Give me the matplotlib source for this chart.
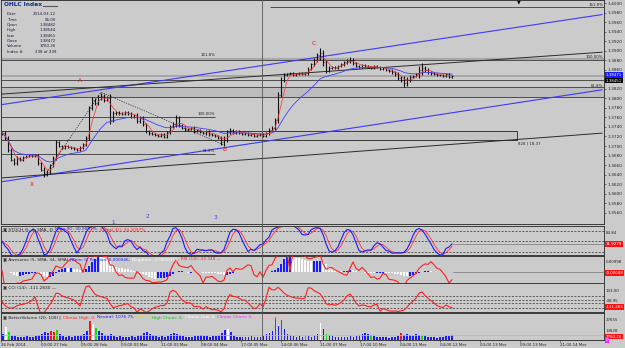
import numpy as np
import pandas as pd
import matplotlib
matplotlib.use("Agg")
import matplotlib.pyplot as plt
from matplotlib.patches import Rectangle
from matplotlib.lines import Line2D

W, H = 625, 348
BG = "#cbcbcb"
EDGE = "#3a3a3a"

# hourly EURUSD closes (one value per plotted bar)
close = [1.3727, 1.3717, 1.3692, 1.3671, 1.3664, 1.3675, 1.3671, 1.3677, 1.3679, 1.3681,
         1.3679, 1.3681, 1.3664, 1.3650, 1.3641, 1.3645, 1.3660, 1.3675, 1.3708, 1.3700,
         1.3696, 1.3700, 1.3698, 1.3696, 1.3694, 1.3692, 1.3696, 1.3704, 1.3717, 1.3780,
         1.3797, 1.3790, 1.3803, 1.3805, 1.3797, 1.3801, 1.3755, 1.3769, 1.3771, 1.3769,
         1.3767, 1.3771, 1.3769, 1.3761, 1.3765, 1.3752, 1.3759, 1.3746, 1.3731, 1.3727,
         1.3725, 1.3723, 1.3721, 1.3725, 1.3719, 1.3729, 1.3742, 1.3746, 1.3759, 1.3744,
         1.3738, 1.3734, 1.3736, 1.3738, 1.3731, 1.3734, 1.3729, 1.3727, 1.3731, 1.3725,
         1.3723, 1.3721, 1.3717, 1.3708, 1.3713, 1.3729, 1.3734, 1.3727, 1.3731, 1.3727,
         1.3725, 1.3727, 1.3723, 1.3725, 1.3721, 1.3723, 1.3725, 1.3721, 1.3727, 1.3734,
         1.3738, 1.3755, 1.3807, 1.3839, 1.3849, 1.3851, 1.3853, 1.3849, 1.3851, 1.3853,
         1.3851, 1.3853, 1.3862, 1.3872, 1.3881, 1.3891, 1.3895, 1.3876, 1.3858, 1.3864,
         1.3866, 1.3864, 1.3868, 1.3872, 1.3876, 1.3879, 1.3881, 1.3874, 1.3868, 1.3866,
         1.3870, 1.3868, 1.3866, 1.3864, 1.3868, 1.3866, 1.3862, 1.3864, 1.3860, 1.3858,
         1.3855, 1.3851, 1.3843, 1.3839, 1.3832, 1.3839, 1.3845, 1.3847, 1.3851, 1.3860,
         1.3864, 1.3860, 1.3855, 1.3853, 1.3851, 1.3849, 1.3849, 1.3847, 1.3851, 1.3845,
         1.3847]

# wick length beyond the open/close, in pips
wick = [3, 4, 4, 3, 3, 3, 2, 2, 3, 2,
        2, 2, 3, 3, 6, 4, 3, 4, 5, 3,
        2, 2, 2, 2, 2, 2, 3, 3, 4, 5,
        5, 4, 4, 6, 4, 3, 8, 4, 3, 3,
        2, 2, 3, 3, 3, 4, 3, 3, 3, 3,
        2, 2, 2, 2, 3, 3, 3, 4, 6, 4,
        3, 2, 2, 2, 3, 2, 2, 2, 3, 3,
        2, 3, 3, 5, 8, 4, 3, 2, 2, 2,
        2, 2, 2, 2, 2, 2, 2, 2, 3, 3,
        3, 4, 6, 5, 4, 3, 2, 2, 2, 2,
        2, 2, 3, 3, 4, 5, 10, 7, 5, 3,
        3, 3, 3, 3, 3, 4, 5, 3, 3, 3,
        2, 2, 2, 3, 3, 3, 2, 2, 2, 2,
        3, 3, 4, 5, 8, 5, 4, 3, 3, 8,
        10, 4, 3, 3, 2, 2, 2, 2, 2, 3,
        2]

volume = [600, 1300, 800, 400, 350, 300, 250, 300, 400, 250,
          300, 350, 500, 600, 800, 700, 900, 800, 1000, 600,
          400, 300, 350, 300, 400, 350, 500, 600, 900, 1900,
          1600, 1200, 900, 700, 500, 400, 600, 400, 300, 350,
          300, 250, 300, 350, 300, 400, 500, 700, 800, 600,
          500, 400, 300, 350, 300, 400, 600, 700, 600, 500,
          400, 300, 250, 300, 350, 400, 500, 400, 350, 300,
          400, 350, 500, 700, 1000, 1100, 800, 400, 300, 250,
          300, 250, 300, 350, 300, 250, 300, 400, 600, 700,
          900, 2300, 1400, 2000, 1100, 600, 500, 400, 300, 350,
          300, 400, 350, 300, 400, 600, 1700, 1100, 600, 500,
          400, 300, 250, 300, 250, 300, 350, 300, 400, 500,
          600, 700, 600, 500, 400, 300, 250, 300, 250, 200,
          250, 300, 400, 700, 500, 600, 500, 400, 600, 500,
          400, 350, 300, 250, 300, 200, 250, 300, 350, 400,
          500]
red_vol = [16, 17, 29, 91, 93, 133]
green_vol = [2, 18, 31, 101, 108, 123, 140]
white_vol = [1, 30, 75, 106]

time_labels = ["26 Feb 2014", "00:00 27 Feb", "05:00 28 Feb", "03:00 03 Mar", "11:00 03 Mar",
               "08:00 04 Mar", "17:00 05 Mar", "14:00 06 Mar", "11:00 07 Mar", "17:00 10 Mar",
               "04:00 11 Mar", "04:00 12 Mar", "03:00 13 Mar", "09:00 13 Mar", "21:00 14 Mar"]

# drawn objects on the price chart: (bar0, price0, bar1, price1)
blue_lines = [(0, 1.3787, 200, 1.3976), (0, 1.3625, 200, 1.3818)]
dark_lines = [(0, 1.3809, 200, 1.3897), (0, 1.3633, 200, 1.3727)]
xabc_bars = [14, 33, 74]
xabc_prices = [1.3636, 1.3813, 1.3702]
wave_marks = ["X", "A", "B", "C"]
wave_bars = [10, 26, 74, 104]
wave_prices = [1.3620, 1.3837, 1.3692, 1.3916]

info_keys = ["Date", "Time", "Open", "High", "Low", "Close", "Volume", "Index #"]
info_vals = ["2014-03-12", "06:00", "1.38482", "1.38544", "1.38461", "1.38472", "3760.26", "238 of 239"]

c = pd.Series(close)
o = c.shift(1).fillna(c.iloc[0])
w = pd.Series(wick) * 0.0001
hi = np.maximum(o, c) + w
lo = np.minimum(o, c) - w
idx = np.arange(len(close))

ma_fast = c.rolling(4, min_periods=1).mean()
ma_slow = c.ewm(span=18).mean()

hh = hi.rolling(5, min_periods=1).max()
ll = lo.rolling(5, min_periods=1).min()
stoch_k = (100 * (c - ll) / (hh - ll)).rolling(3, min_periods=1).mean()
stoch_d = stoch_k.rolling(3, min_periods=1).mean()

med = (hi + lo) / 2
ao = med.rolling(3, min_periods=1).mean() - med.rolling(21, min_periods=1).mean()
delta = c.diff()
gain = delta.clip(lower=0).rolling(9, min_periods=1).mean()
loss = (-delta.clip(upper=0)).rolling(9, min_periods=1).mean()
rsi = (100 - 100 / (1 + gain / loss.replace(0, np.nan))).fillna(50)

tp = (hi + lo + c) / 3
mad = tp.rolling(9, min_periods=1).apply(lambda v: np.mean(np.abs(v - v.mean())), raw=True)
cci = ((tp - tp.rolling(9, min_periods=1).mean()) / (0.015 * mad.replace(0, np.nan))).fillna(0)


def fx(px):
    return px / W


def fy(py):
    return 1 - py / H


def panel(top, bottom):
    a = fig.add_axes([fx(1), fy(bottom), fx(603), (bottom - top) / H])
    a.set_facecolor(BG)
    for s in a.spines.values():
        s.set_color(EDGE)
        s.set_linewidth(0.7)
    a.set_xlim(-1 / 3, 602 / 3)
    a.yaxis.tick_right()
    a.tick_params(axis="y", labelsize=3.1, length=1.5, width=0.4, pad=1, colors="#222222")
    a.tick_params(axis="x", length=0, labelbottom=False)
    return a


def tag(py, s, fc, tc="white"):
    fig.text(fx(606), fy(py), s, fontsize=2.9, color=tc, va="center", ha="left",
             bbox=dict(boxstyle="square,pad=0.15", fc=fc, ec="none"))


def side(py, s):
    fig.text(fx(606), fy(py), s, fontsize=2.9, color="#222222", va="center")


def chain(py, pieces):
    # window title made of several coloured pieces, one after another
    t = fig.text(fx(3), fy(py), "\u25a3 " + pieces[0][0], fontsize=3.1, color=pieces[0][1], va="center")
    for s, col in pieces[1:]:
        t = fig.add_artist(plt.Annotation(s, xy=(1, 0.5), xycoords=t, xytext=(1.2, 0),
                                          textcoords="offset points", fontsize=3.1, color=col,
                                          va="center"))


fig = plt.figure(figsize=(W / 100, H / 100), dpi=100, facecolor=BG)

# ---------------- price panel ----------------
ax = panel(0, 224)
ax.set_ylim(1.35362, 1.40066)
ticks = np.arange(1.356, 1.4001, 0.002)
ax.set_yticks(ticks)
ax.set_yticklabels([f"{v:.4f}" for v in ticks])

# horizontal levels and zones
ax.add_patch(Rectangle((-1, 1.3803), 205, 0.0021, fc="#bcbcbc", ec=EDGE, lw=0.6))
ax.add_patch(Rectangle((-1, 1.37126), 172.7, 0.00189, fc="#c4c4c4", ec=EDGE, lw=0.7))
ax.axhline(1.3882, color="#a8a8a8", lw=1.6)
ax.axhline(1.3880, color=EDGE, lw=0.6)
ax.axhline(close[-1], color="#a0a0a0", lw=1.2)
ax.axhline(1.3839, color=EDGE, lw=0.6)
ax.hlines(1.3992, 89.3, 205, color=EDGE, lw=0.6)
ax.hlines([1.3761, 1.3683], -1, 71, color=EDGE, lw=0.6)

for x0, p0, x1, p1 in blue_lines:
    ax.plot([x0, x1], [p0, p1], color="#3a3aff", lw=0.8)
for x0, p0, x1, p1 in dark_lines:
    ax.plot([x0, x1], [p0, p1], color="#2b2b2b", lw=0.7)
ax.plot(xabc_bars, xabc_prices, color="#333333", lw=0.5, ls=(0, (2, 1.5)))

# bars
ax.vlines(idx, lo, hi, color="#111111", lw=0.8)
ax.hlines(o, idx - 0.45, idx, color="#111111", lw=0.5)
ax.hlines(c, idx, idx + 0.45, color="#111111", lw=0.5)
ax.plot(idx, ma_slow, color="#4040ff", lw=0.6)
ax.plot(idx, ma_fast, color="#ff3030", lw=0.5)

for m, b, p in zip(wave_marks, wave_bars, wave_prices):
    ax.text(b, p, m, color="#e01010", fontsize=4.2, ha="center", va="center")

fib = [(603, 5, "161.8%"), (603, 57, "100.00%"), (603, 86, "61.8%"),
       (215, 55, "161.8%"), (215, 114, "100.00%"), (215, 151, "61.8%")]
for px, py, s in fib:
    fig.text(fx(px), fy(py), s, fontsize=2.8, color="#222222", ha="right", va="center")
fig.text(fx(518), fy(144), "828 | 18.37", fontsize=2.8, color="#222222", ha="left", va="center")
fig.text(fx(519), fy(2), "\u25bc", fontsize=3.5, color="black", ha="center", va="center")
for s, px, py in [("1", 113, 222), ("2", 147, 216), ("3", 215, 218)]:
    fig.text(fx(px), fy(py), s, fontsize=4.2, color="#4040ff", ha="center", va="center")

# info box
fig.text(fx(4), fy(5), "OHLC Index", fontsize=4.2, color="#0a2a8a", weight="bold", va="center")
fig.add_artist(Line2D([fx(43), fx(57)], [fy(6), fy(6)], color="#555555", lw=0.8))
for k, (key, val) in enumerate(zip(info_keys, info_vals)):
    yy = 14.3 + k * 5.35
    fig.text(fx(7), fy(yy), key, fontsize=2.9, color="#1a1a40", va="center")
    fig.text(fx(56), fy(yy), val, fontsize=2.9, color="#1a1a40", va="center", ha="right")

tag(75, "1.38471", "#1a1aff")
tag(80.5, "1.38451", "black")

# ---------------- stochastic ----------------
a2 = panel(226, 255)
a2.set_ylim(10.6, 93.4)
a2.set_yticks([])
for lv in (80, 50, 20):
    a2.axhline(lv, color="#333333", lw=0.5, ls=(0, (3, 2)))
a2.plot(idx, stoch_d, color="#ff3030", lw=0.6)
a2.plot(idx, stoch_k, color="#1a1aff", lw=0.8)
a2.axhline(stoch_k.iloc[-1], xmin=0.75, color="#777777", lw=0.5)

# ---------------- awesome + rsi ----------------
a3 = panel(256, 283)
amax = ao.max()
a3.set_ylim(-amax * 11 / 16, amax)
a3.set_yticks([])
ao_col = np.where(ao.diff().fillna(0) >= 0, "#1a1aff", "white")
a3.bar(idx, ao, width=0.55, color=ao_col)
a3.axhline(0, xmin=0.75, color="#777777", lw=0.5)
a3r = a3.twinx()
a3r.set_ylim(15, 90)
a3r.axis("off")
a3r.plot(idx, rsi, color="#ff2020", lw=0.8)

# ---------------- CCI ----------------
a4 = panel(283, 312)
a4.set_ylim(-175, 309)
a4.set_yticks([])
for lv in (100, 33, -33, -100):
    a4.axhline(lv, color="#333333", lw=0.5, ls=(0, (3, 2)))
a4.plot(idx, cci, color="#ff2020", lw=0.8)

# ---------------- volume ----------------
a5 = panel(313, 340)
vmax = max(volume)
a5.set_ylim(0, vmax * 1.17)
a5.set_yticks([])
vcol = ["#1a1aff"] * len(volume)
for i in red_vol:
    vcol[i] = "#ff1010"
for i in green_vol:
    vcol[i] = "#10e010"
for i in white_vol:
    vcol[i] = "white"
a5.bar(idx, volume, width=0.6, color=vcol)
a5.axhline(np.mean(volume), color="#f0a0a0", lw=0.6)
a5.set_xticks(np.arange(len(time_labels)) * 40 / 3 - 2 / 3)
a5.set_xticklabels(time_labels)
a5.tick_params(axis="x", labelbottom=True, labelsize=2.9, length=1.5, width=0.4, pad=0.5,
               colors="#222222")
for t in a5.get_xticklabels():
    t.set_ha("left")

chain(229.5, [("STOCH (5, 3, SMA, 3)", "#222222"), ("Main (K): 30.9097%,", "#1a1aff"),
              ("Signal (D): 34.3097%", "#ff2020")])
chain(259.5, [("Awesome (5, SMA, 34, SMA)", "#222222"), ("[Zero: 0, Positive: 0.000046,", "#1a1aff"),
              ("Negative: -0.000031]", "white"), (", RSI (14): 43.340 \u2014", "#ff2020")])
chain(287, [("CCI (14): -111.2830 \u2014", "#222222")])
chain(317.5, [("BetterVolume (20, 100) [", "#222222"), ("Climax High: 0,", "#ff2020"),
              ("Neutral: 1076.75,", "#1a1aff"), ("Low: 0,", "#e0e000"), ("High Churn: 0,", "#10c010"),
              ("Climax Low: 0,", "white"), ("Climax Churn: 0,", "#ff20ff"), ("Low Churn: 0 ]", "#ffb0b0")])

# right-hand values of the indicator windows
side(233, "83.84")
tag(244, "31.9279", "#ff1010")
side(262, "0.00998")
tag(273, "-0.00048", "#ff1010")
side(291, "133.00")
side(301, "-48.95")
tag(307, "-111.283", "#ff1010")
side(320, "27655")
side(331, "13828")
tag(336.5, "3760.26", "#ff1010")
tag(340, "0", "#ff20ff")

# vertical separator through all windows
fig.add_artist(Line2D([fx(262), fx(262)], [fy(0), fy(340)], color="#555555", lw=0.6))

fig.savefig("out.png", dpi=100, facecolor=BG)
